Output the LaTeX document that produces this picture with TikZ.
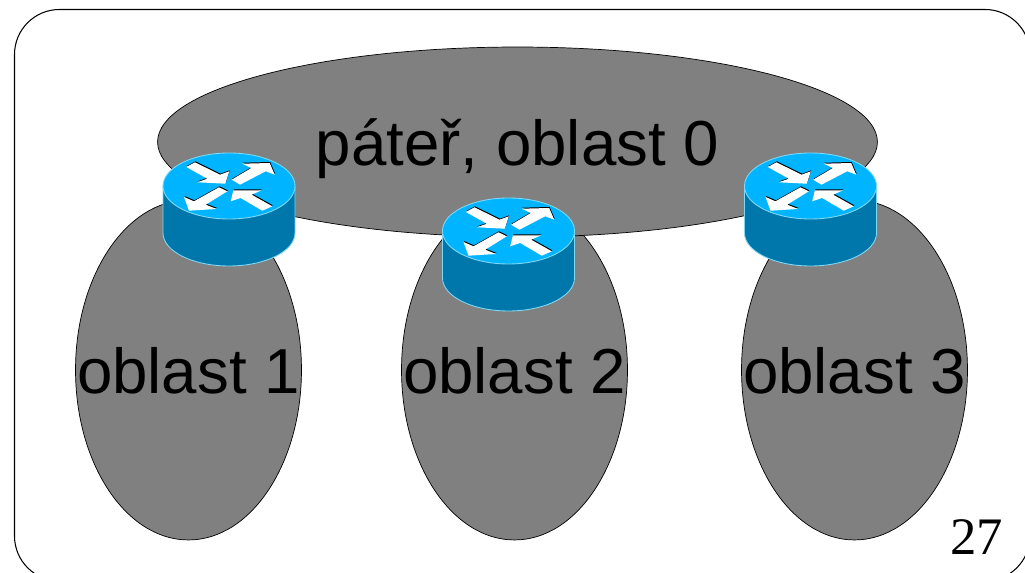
\documentclass[tikz,border=0pt]{standalone}
\usepackage{fontspec}
\setmainfont{Liberation Sans}
\newfontfamily\pagefont{Liberation Serif}
\usetikzlibrary{shapes.geometric}
\definecolor{areagray}{HTML}{808080}
\definecolor{routertop}{HTML}{00B4FF}
\definecolor{routerbody}{HTML}{0077AA}
\definecolor{routerline}{HTML}{7FD8F5}
\tikzset{area/.style={draw,ellipse,fill=areagray,inner sep=0,font=\fontsize{36.2}{36.2}\selectfont,text depth=0pt},
         pagenum/.style={inner sep=0,font=\pagefont\fontsize{30}{30}\selectfont},
         router/.pic={
           \draw[routerline,fill=routerbody,line width=.5pt](-66,0)--(-66,-47)arc[start angle=180,end angle=360,x radius=66,y radius=33]--(66,0);
           \draw[routerline,fill=routertop,line width=.5pt](0,0)ellipse[x radius=66,y radius=33];
           \foreach\Arrow in {{(-42.7,19)--(-34,23.7)--(-9,11.3)--(.3,14.7)--(-3.7,2.3)--(-31.7,3.7)--(-21.7,7.3)--cycle},
                              {(2.7,6.3)--(22.3,18)--(13.3,22.3)--(40.7,23)--(45.7,11.3)--(36.7,14.7)--(11,1.3)--cycle},
                              {(-10,-1.3)--(-1.7,-5.3)--(-23.3,-18.7)--(-12.3,-23)--(-40,-24.7)--(-45,-11)--(-35,-15.3)--cycle},
                              {(43.3,-20.3)--(33.3,-24.7)--(11.7,-12)--(1.7,-15.3)--(4.3,-4.3)--(32.7,-4.3)--(22.7,-8.7)--cycle}} {
              \fill[black,shift={(.5,1)}]\Arrow;
              \fill[white]\Arrow;
           }
         }
}

\begin{document}
\begin{tikzpicture}[x=0.02cm,y=0.02cm]
  \useasboundingbox(0,0)rectangle(1025,-573);
  \draw[line width=.6pt,rounded corners=.9cm](14.5,-9.5)rectangle(1030,-581);
  \foreach\name/\x/\txt in {oblast1/188.5/oblast 1,oblast2/514.5/oblast 2,oblast3/854.5/oblast 3} {
     \node(\name)[area,minimum width=4.52cm,minimum height=6.8cm]at(\x,-370){\makebox[0pt]{\txt}};
  }
  \node(pater)[area,minimum width=14.4cm,minimum height=3.8cm]at(517.5,-142){\makebox[0pt]{páteř, oblast 0}};
  \foreach\name/\x/\y in {router1/229/-186,router2/508.5/-231,router3/810.5/-186} {
     \pic(\name)at(\x,\y){router};
  }
  \node(pagenum)[pagenum]at(976.5,-537){27};
\end{tikzpicture}
\end{document}
